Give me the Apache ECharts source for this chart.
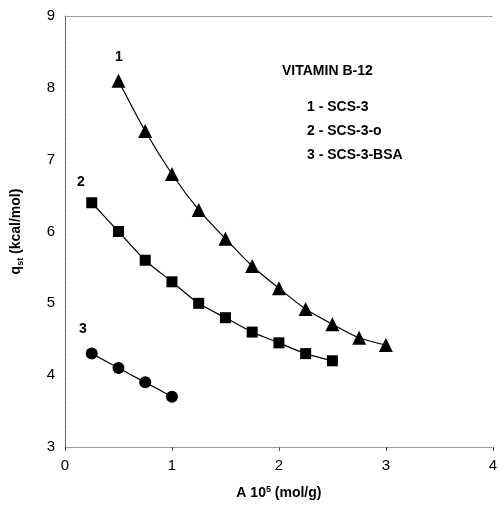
<!DOCTYPE html>
<html><head><meta charset="utf-8">
<script src="https://cdn.jsdelivr.net/npm/echarts@6/dist/echarts.min.js"></script>
<style>html,body{margin:0;padding:0;background:#fff}#c{width:500px;height:517px}</style>
</head><body><div id="c"></div>
<script>
const x1 = [0.5, 0.75, 1.0, 1.25, 1.5, 1.75, 2.0, 2.25, 2.5, 2.75, 3.0];
const y1 = [8.1, 7.4, 6.8, 6.3, 5.9, 5.52, 5.21, 4.92, 4.71, 4.52, 4.42];
const x2 = [0.25, 0.5, 0.75, 1.0, 1.25, 1.5, 1.75, 2.0, 2.25, 2.5];
const y2 = [6.4, 6.0, 5.6, 5.3, 5.0, 4.8, 4.6, 4.45, 4.3, 4.2];
const x3 = [0.25, 0.5, 0.75, 1.0];
const y3 = [4.3, 4.1, 3.9, 3.7];
const xTicks = [0, 1, 2, 3, 4];
const yTicks = [3, 4, 5, 6, 7, 8, 9];
const legendTitle = 'VITAMIN B-12';
const legendItems = ['1 - SCS-3', '2 - SCS-3-o', '3 - SCS-3-BSA'];
const curveLabels = ['1', '2', '3'];

const font = 'Liberation Sans, Arial, sans-serif';
const zip = (a, b) => a.map((v, i) => [v, b[i]]);
const chart = echarts.init(document.getElementById('c'));
const dotted = {show: true, lineStyle: {color: '#888', type: 'dotted', width: 1}};
const common = {type: 'line', smooth: 0.3, lineStyle: {color: '#000', width: 1.2},
  itemStyle: {color: '#000'}, z: 3};
chart.setOption({
  animation: false,
  grid: {left: 65, right: 3, top: 16, bottom: 70},
  xAxis: [{
    type: 'value', min: 0, max: 4, interval: 1,
    axisLine: dotted, splitLine: {show: false},
    axisTick: {show: true, length: 4, lineStyle: {color: '#555'}},
    axisLabel: {color: '#000', fontFamily: font, fontSize: 15, margin: 11},
    name: 'A 10{sup|5} (mol/g)', nameLocation: 'middle', nameGap: 38,
    nameTextStyle: {color: '#000', fontFamily: font, fontSize: 14, fontWeight: 'bold',
      rich: {sup: {fontSize: 9, fontWeight: 'bold', verticalAlign: 'top', padding: [0,0,8,0], fontFamily: font}}}
  }, {
    type: 'value', min: 0, max: 4, position: 'top', axisLine: dotted,
    axisTick: {show: false}, axisLabel: {show: false}, splitLine: {show: false}
  }],
  yAxis: [{
    type: 'value', min: 3, max: 9, interval: 1,
    axisLine: dotted, splitLine: {show: false},
    axisTick: {show: false},
    axisLabel: {color: '#000', fontFamily: font, fontSize: 15, margin: 10},
    name: 'q{sub|st} (kcal/mol)', nameLocation: 'middle', nameGap: 40, nameRotate: 90,
    nameTextStyle: {color: '#000', fontFamily: font, fontSize: 14, fontWeight: 'bold',
      rich: {sub: {fontSize: 9, fontWeight: 'bold', verticalAlign: 'bottom', padding: [8,0,0,0], fontFamily: font}}}
  }, {
    type: 'value', min: 3, max: 9, position: 'right', axisLine: {show: true, lineStyle: {color: '#555', type: 'dashed', width: 1}},
    axisTick: {show: false}, axisLabel: {show: false}, splitLine: {show: false}
  }],
  series: [
    Object.assign({data: zip(x1, y1), symbol: 'triangle', symbolSize: 14}, common),
    Object.assign({data: zip(x2, y2), symbol: 'rect', symbolSize: 11}, common),
    Object.assign({data: zip(x3, y3), symbol: 'circle', symbolSize: 12}, common)
  ],
  graphic: [
    {type: 'text', left: 282, top: 64, style: {text: legendTitle, fill: '#000', font: 'bold 14px ' + font}},
    {type: 'text', left: 307, top: 100, style: {text: legendItems[0], fill: '#000', font: 'bold 14px ' + font}},
    {type: 'text', left: 307, top: 124, style: {text: legendItems[1], fill: '#000', font: 'bold 14px ' + font}},
    {type: 'text', left: 307, top: 148, style: {text: legendItems[2], fill: '#000', font: 'bold 14px ' + font}},
    {type: 'text', left: 115, top: 50, style: {text: curveLabels[0], fill: '#000', font: 'bold 14px ' + font}},
    {type: 'text', left: 77, top: 175, style: {text: curveLabels[1], fill: '#000', font: 'bold 14px ' + font}},
    {type: 'text', left: 79, top: 322, style: {text: curveLabels[2], fill: '#000', font: 'bold 14px ' + font}}
  ]
});
</script></body></html>
